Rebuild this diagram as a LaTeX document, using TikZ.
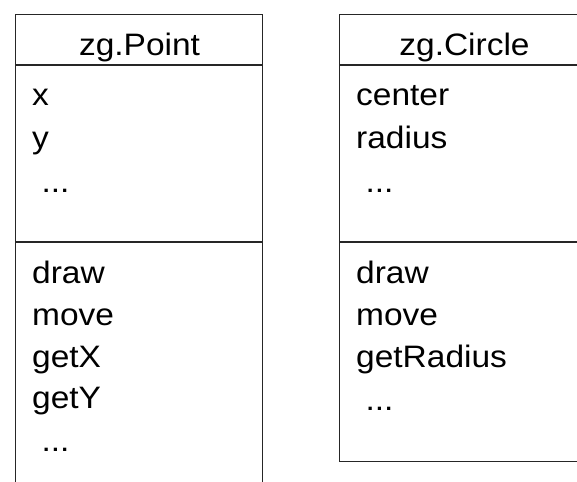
\documentclass[tikz,border=0pt]{standalone}
\usepackage{fontspec}
\setmainfont{Liberation Sans}[FakeStretch=1.08]
\begin{document}
\begin{tikzpicture}[x=1pt,y=-1pt,
  boxline/.style={draw=black!85,line width=1.4pt},
  member/.style={anchor=base west,inner sep=0pt,font=\fontsize{31}{31}\selectfont},
  title/.style={anchor=base,inner sep=0pt,font=\fontsize{31}{31}\selectfont}]
\useasboundingbox (0,0) rectangle (577,481);
\clip (0,0) rectangle (577,481);
% boxes
\node[boxline,anchor=north west,minimum width=247pt,minimum height=490pt,inner sep=0pt] (pointbox) at (15,14) {};
\node[boxline,anchor=north west,minimum width=251pt,minimum height=447pt,inner sep=0pt] (circlebox) at (339,14) {};
\coordinate (p1a) at (15,65); \coordinate (p1b) at (262,65);
\coordinate (p2a) at (15,242); \coordinate (p2b) at (262,242);
\coordinate (c1a) at (339,65); \coordinate (c1b) at (590,65);
\coordinate (c2a) at (339,242); \coordinate (c2b) at (590,242);
\draw[boxline] (p1a) -- (p1b);
\draw[boxline] (p2a) -- (p2b);
\draw[boxline] (c1a) -- (c1b);
\draw[boxline] (c2a) -- (c2b);
% titles
\node[title] (ptitle) at (139.5,56) {zg.Point};
\node[title] (ctitle) at (464.5,56) {zg.Circle};
% Point members
\node[member] (px) at (32,106) {x};
\node[member] (py) at (32,148) {y};
\node[member] (pdots1) at (32,192) {\ ...};
\node[member] (pdraw) at (32,283) {draw};
\node[member] (pmove) at (32,325) {move};
\node[member] (pgetx) at (32,367) {getX};
\node[member] (pgety) at (32,408) {getY};
\node[member] (pdots2) at (32,451) {\ ...};
% Circle members
\node[member] (ccenter) at (356,106) {center};
\node[member] (cradius) at (356,148) {radius};
\node[member] (cdots1) at (356,192) {\ ...};
\node[member] (cdraw) at (356,283) {draw};
\node[member] (cmove) at (356,325) {move};
\node[member] (cgetr) at (356,367) {getRadius};
\node[member] (cdots2) at (356,410) {\ ...};
\end{tikzpicture}
\end{document}
